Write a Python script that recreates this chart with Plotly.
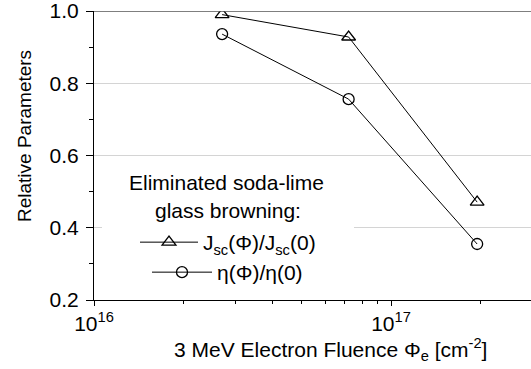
import plotly.graph_objects as go

# Electron fluence (cm^-2) and normalised cell parameters
fluence = [2.7e16, 7.2e16, 1.95e17]
jsc_rel = [0.99, 0.928, 0.471]
eta_rel = [0.936, 0.756, 0.355]

x_tickvals = [1e16, 1e17]
x_ticktext = ["10<sup>16</sup>", "10<sup>17</sup>"]
x_minor = [2e16, 3e16, 4e16, 5e16, 6e16, 7e16, 8e16, 9e16, 2e17, 3e17]
y_tickvals = [0.2, 0.4, 0.6, 0.8, 1.0]
y_ticktext = ["0.2", "0.4", "0.6", "0.8", "1.0"]

FONT = "Liberation Sans, Arial, sans-serif"
FS = 21

fig = go.Figure()
fig.add_trace(go.Scatter(
    x=fluence, y=jsc_rel, mode="lines+markers",
    name="J<sub>sc</sub>(\u03a6)/J<sub>sc</sub>(0)",
    legend="legend",
    line=dict(color="black", width=1),
    marker=dict(symbol="triangle-up-open", size=12, color="black",
                line=dict(width=1.3, color="black")),
))
fig.add_trace(go.Scatter(
    x=fluence, y=eta_rel, mode="lines+markers",
    name="\u03b7(\u03a6)/\u03b7(0)",
    legend="legend2",
    line=dict(color="black", width=1),
    marker=dict(symbol="circle-open", size=11, color="black",
                line=dict(width=1.3, color="black")),
))

legend_common = dict(
    xanchor="left", yanchor="top",
    bgcolor="rgba(0,0,0,0)", borderwidth=0,
    font=dict(size=FS),
)


def py(px):
    """Pixel row -> paper y for the 11..300 px plot area."""
    return (300 - px) / 289


def pxx(px):
    """Pixel column -> paper x for the 94..531 px plot area."""
    return (px - 94) / 437


fig.update_layout(
    width=531, height=369,
    margin=dict(l=94, r=0, t=11, b=69),
    paper_bgcolor="white", plot_bgcolor="white",
    font=dict(family=FONT, size=FS, color="black"),
    showlegend=True,
    legend=dict(x=pxx(135), y=py(222), itemwidth=58, **legend_common),
    legend2=dict(x=pxx(147), y=py(252), itemwidth=60, **legend_common),
    xaxis=dict(
        type="log", range=[16, 17.4714],
        tickmode="array", tickvals=x_tickvals, ticktext=x_ticktext,
        ticks="outside", ticklen=5, tickwidth=1, tickcolor="black",
        showline=True, linecolor="black", linewidth=1,
        showgrid=False, zeroline=False,
        minor=dict(tickmode="array", tickvals=x_minor, ticks="outside",
                   ticklen=3, tickcolor="black", showgrid=False),
        tickfont=dict(size=FS),
        ticklabeloverflow="allow",
    ),
    yaxis=dict(
        range=[0.2, 1.0],
        tickmode="array", tickvals=y_tickvals, ticktext=y_ticktext,
        ticks="outside", ticklen=7, tickwidth=1, tickcolor="black",
        ticklabelstandoff=3, ticklabeloverflow="allow",
        showline=True, linecolor="black", linewidth=1,
        showgrid=True, gridcolor="#d4d4d4", gridwidth=1, zeroline=False,
        minor=dict(dtick=0.1, tick0=0.2, ticks="outside", ticklen=4,
                   tickcolor="black", showgrid=False),
        tickfont=dict(size=FS),
    ),
    shapes=[
        # white panel behind the legend, hiding the gridlines
        dict(type="rect", xref="paper", yref="paper",
             x0=pxx(102), x1=pxx(354), y0=0.005, y1=py(160),
             fillcolor="white", line=dict(width=0), layer="above"),
        # dark frame line along the top of the plot
        dict(type="line", xref="paper", yref="y", x0=0, x1=1, y0=1.0, y1=1.0,
             line=dict(color="#555555", width=1.5), layer="above"),
    ],
    annotations=[
        dict(text="Eliminated soda-lime",
             xref="paper", yref="paper", x=pxx(226), y=py(182),
             xanchor="center", yanchor="middle",
             showarrow=False, font=dict(size=FS)),
        dict(text="glass browning:",
             xref="paper", yref="paper", x=pxx(228), y=py(211),
             xanchor="center", yanchor="middle",
             showarrow=False, font=dict(size=FS)),
        dict(text="3 MeV Electron Fluence \u03a6<sub>e</sub> [cm<sup>-2</sup>]",
             xref="paper", yref="paper", x=pxx(330), y=py(349),
             xanchor="center", yanchor="middle", showarrow=False,
             font=dict(size=FS)),
        dict(text="Relative Parameters", textangle=-90,
             xref="paper", yref="paper", x=pxx(24), y=py(136),
             xanchor="center", yanchor="middle", showarrow=False,
             font=dict(size=19)),
    ],
)

fig.write_html("out.html")
